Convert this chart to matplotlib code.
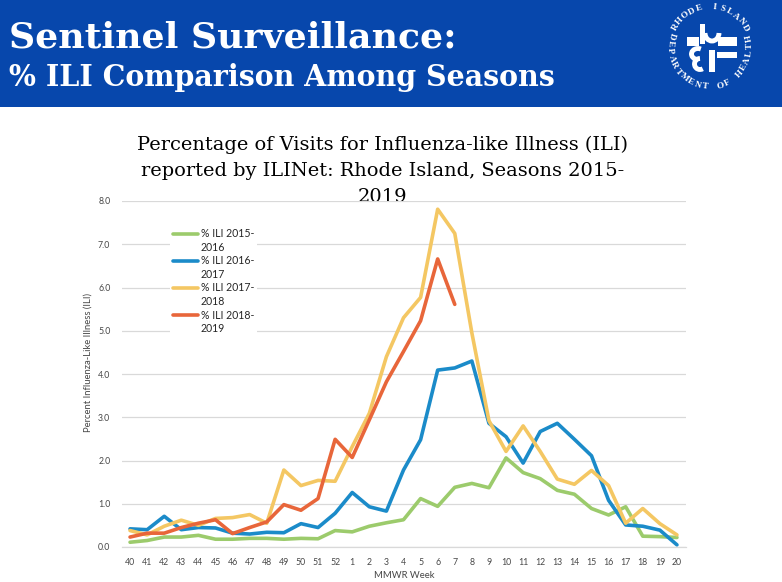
import numpy as np
import matplotlib
matplotlib.use('Agg')
import matplotlib.pyplot as plt
from matplotlib.lines import Line2D
from matplotlib.legend_handler import HandlerLine2D
from matplotlib.patches import Rectangle, Arc

weeks = ['40', '41', '42', '43', '44', '45', '46', '47', '48', '49', '50', '51', '52',
         '1', '2', '3', '4', '5', '6', '7', '8', '9', '10', '11', '12', '13', '14',
         '15', '16', '17', '18', '19', '20']

ili_2015_16 = [0.11, 0.15, 0.23, 0.23, 0.27, 0.18, 0.18, 0.20, 0.20, 0.18, 0.20, 0.19, 0.38,
               0.35, 0.48, 0.56, 0.63, 1.12, 0.94, 1.38, 1.47, 1.37, 2.06, 1.72, 1.58, 1.31,
               1.22, 0.89, 0.74, 0.93, 0.25, 0.24, 0.22]
ili_2016_17 = [0.42, 0.40, 0.71, 0.40, 0.45, 0.44, 0.32, 0.30, 0.34, 0.33, 0.54, 0.45, 0.78,
               1.26, 0.93, 0.83, 1.78, 2.48, 4.09, 4.14, 4.30, 2.86, 2.55, 1.94, 2.67, 2.86,
               2.49, 2.11, 1.08, 0.51, 0.48, 0.39, 0.05]
ili_2017_18 = [0.38, 0.28, 0.48, 0.62, 0.50, 0.66, 0.68, 0.75, 0.55, 1.78, 1.42, 1.54, 1.52,
               2.32, 3.09, 4.40, 5.30, 5.77, 7.81, 7.25, 4.95, 2.92, 2.21, 2.80, 2.21, 1.57,
               1.45, 1.77, 1.42, 0.55, 0.89, 0.54, 0.28]
ili_2018_19 = [0.23, 0.32, 0.32, 0.45, 0.55, 0.63, 0.31, 0.45, 0.58, 0.98, 0.85, 1.12, 2.49,
               2.07, 2.94, 3.82, 4.52, 5.23, 6.66, 5.61]

series = [
    ('% ILI 2015-\n2016', ili_2015_16, '#9CCB6C'),
    ('% ILI 2016-\n2017', ili_2016_17, '#1B8BC9'),
    ('% ILI 2017-\n2018', ili_2017_18, '#F4C763'),
    ('% ILI 2018-\n2019', ili_2018_19, '#E8663A'),
]

W, H = 782, 582
HEADER_BLUE = '#0747AC'
GREY_TXT = '#474747'
SANS = 'Lato'


class FirstLineHandler(HandlerLine2D):
    # excel puts the legend line next to the first line of a wrapped label
    def create_artists(self, legend, orig_handle, xdescent, ydescent, width, height,
                       fontsize, trans):
        arts = super().create_artists(legend, orig_handle, xdescent, ydescent, width,
                                      height, fontsize, trans)
        for a in arts:
            a.set_ydata(np.asarray(a.get_ydata()) + 0.68 * fontsize)
        return arts


def fit_width(fig, txt, width_px):
    r = fig.canvas.get_renderer()
    w = txt.get_window_extent(r).width
    txt.set_fontsize(txt.get_fontsize() * width_px / w)


def ring_text(bg, cx, cy, r, s, a_start, a_end, flip):
    for ch, a in zip(s, np.linspace(a_start, a_end, len(s))):
        t = np.radians(a)
        bg.text(cx + r * np.cos(t), cy - r * np.sin(t), ch,
                rotation=a + 90 if flip else a - 90,
                ha='center', va='center', color='white', fontsize=6.6,
                family='Liberation Serif', weight='bold', rotation_mode='anchor')


def logo(bg, cx, cy, r):
    ring_text(bg, cx, cy, r, 'RHODE ISLAND', 150, 28, False)
    ring_text(bg, cx, cy, r, 'DEPARTMENT OF HEALTH', 163, 373, True)
    # the cross symbol, roughly
    for (x, y, w, h) in [(687, 37, 12, 9), (718, 37, 19, 9), (717, 52, 20, 6),
                         (700, 24, 5, 20), (709, 50, 6, 22)]:
        bg.add_patch(Rectangle((x, y), w, h, color='white', lw=0))
    bg.add_patch(Arc((712, 33), 14, 16, theta1=0, theta2=180, color='white', lw=3.5))
    bg.add_patch(Arc((698, 54), 13, 11, theta1=90, theta2=300, color='white', lw=3.5))
    bg.add_patch(Arc((700, 64), 11, 11, theta1=60, theta2=270, color='white', lw=3.5))


fig = plt.figure(figsize=(W / 100, H / 100), dpi=100)

# pixel-space background axes for header, logo and titles
bg = fig.add_axes([0, 0, 1, 1], zorder=0)
bg.set_xlim(0, W)
bg.set_ylim(H, 0)
bg.axis('off')
bg.add_patch(Rectangle((0, 0), W, 107, color=HEADER_BLUE, lw=0))
h1 = bg.text(9, 47.5, 'Sentinel Surveillance:', color='white', fontsize=26,
             family='DejaVu Serif', weight='bold', va='baseline', ha='left')
h2 = bg.text(9, 86, '% ILI Comparison Among Seasons', color='white', fontsize=20,
             family='DejaVu Serif', weight='bold', va='baseline', ha='left')
fit_width(fig, h1, 448)
fit_width(fig, h2, 546)
logo(bg, 710, 47, 40)

title_lines = ['Percentage of Visits for Influenza-like Illness (ILI)',
               'reported by ILINet: Rhode Island, Seasons 2015-',
               '2019']
t1 = bg.text(382.5, 150.5, title_lines[0], fontsize=13, family='DejaVu Serif',
             ha='center', va='baseline', color='black')
fit_width(fig, t1, 487)
for line, yb in zip(title_lines[1:], [176.5, 201.5]):
    bg.text(382.5, yb, line, fontsize=t1.get_fontsize(), family='DejaVu Serif',
            ha='center', va='baseline', color='black')

# chart axes
x0, x1, y_top, y_bot = 121.5, 685.5, 201, 547
ax = fig.add_axes([x0 / W, 1 - y_bot / H, (x1 - x0) / W, (y_bot - y_top) / H], zorder=1)
ax.patch.set_alpha(0)

x = np.arange(len(weeks))
for label, vals, col in series:
    ax.plot(x[:len(vals)], vals, color=col, lw=2.6, label=label, solid_capstyle='round',
            solid_joinstyle='round')

ax.set_xlim(-0.5, len(weeks) - 0.5)
ax.set_ylim(0, 8)
ax.set_xticks(x)
ax.set_xticklabels(weeks)
ax.set_yticks(np.arange(0, 9))
ax.set_yticklabels(['%.1f' % v for v in np.arange(0, 9)])
ax.tick_params(length=0, labelsize=6.3, labelcolor=GREY_TXT)
ax.tick_params(axis='y', pad=8)
ax.tick_params(axis='x', pad=8)
for lab in ax.get_xticklabels() + ax.get_yticklabels():
    lab.set_family(SANS)

ax.grid(axis='y', color='#D9D9D9', lw=0.9)
ax.set_axisbelow(True)
for s in ['top', 'right', 'left']:
    ax.spines[s].set_visible(False)
ax.spines['bottom'].set_color('#D9D9D9')
ax.spines['bottom'].set_linewidth(0.9)

ax.set_xlabel('MMWR Week', fontsize=6.8, color=GREY_TXT, family=SANS)
ax.xaxis.set_label_coords((404 - x0) / (x1 - x0), -(571 - y_bot) / (y_bot - y_top))
ax.set_ylabel('Percent Influenza-Like Illness (ILI)', fontsize=6.8, color=GREY_TXT,
              family=SANS)
ax.yaxis.set_label_coords(-(x0 - 93) / (x1 - x0), (y_bot - 363) / (y_bot - y_top))

leg = ax.legend(loc='upper left', bbox_to_anchor=(165 / W, 1 - 220 / H),
                bbox_transform=fig.transFigure, frameon=True, fancybox=False,
                facecolor='white', edgecolor='none', framealpha=1,
                prop={'family': SANS, 'size': 7.6}, handlelength=2.3,
                handletextpad=0.3, labelspacing=0.22, borderpad=0.3,
                handler_map={Line2D: FirstLineHandler()})
for t in leg.get_texts():
    t.set_color('#262626')
    t.set_linespacing(1.3)

fig.savefig('out.png', dpi=100)
